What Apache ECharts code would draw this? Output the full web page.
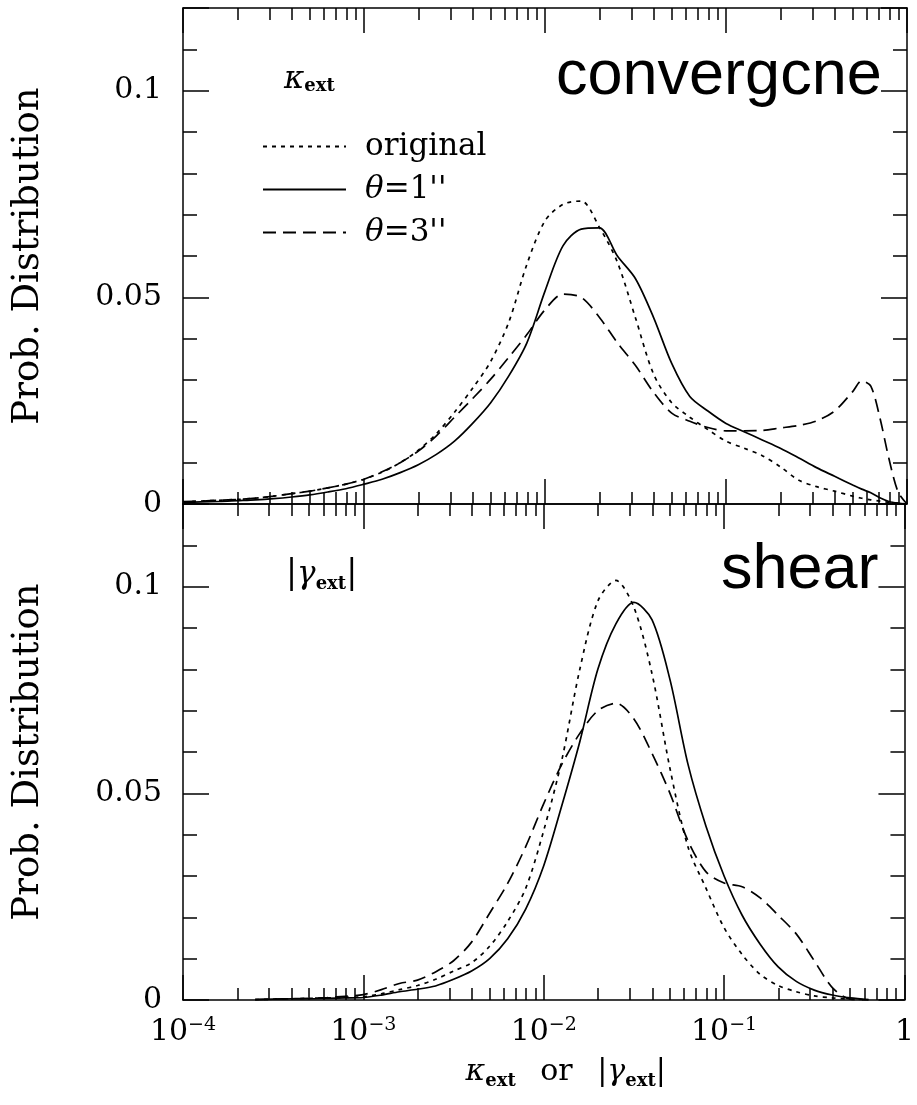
<!DOCTYPE html>
<html>
<head>
<meta charset="utf-8">
<script src="https://cdn.jsdelivr.net/npm/echarts@6/dist/echarts.min.js"></script>
<style>
html,body{margin:0;padding:0;background:#fff;}
#chart{width:917px;height:1105px;}
</style>
</head>
<body>
<div id="chart"></div>
<script>
// log10(kappa_ext) sample points, top panel
var kappaLog = [-4.0,-3.9,-3.8,-3.7,-3.6,-3.5,-3.4,-3.3,-3.2,-3.1,
  -3.0,-2.9,-2.8,-2.7,-2.6,-2.5,-2.4,-2.3,-2.2,-2.1,
  -2.0,-1.9,-1.8,-1.7,-1.6,-1.5,-1.4,-1.3,-1.2,-1.1,
  -1.0,-0.9,-0.8,-0.7,-0.6,-0.5,-0.4,-0.3,-0.25,-0.2,
  -0.15,-0.1,-0.05,0];
var kappaOriginal = [0.0005,0.0007,0.0009,0.0011,0.0014,0.0019,0.0025,0.0031,0.0039,0.0048,
  0.0060,0.0077,0.0100,0.0130,0.0170,0.0222,0.0280,0.0345,0.0440,0.0580,
  0.0685,0.0725,0.0733,0.0670,0.0585,0.0450,0.0314,0.0245,0.0210,0.0180,
  0.0152,0.0135,0.0117,0.0090,0.0058,0.0042,0.0031,0.0019,0.0014,0.0010,
  0.0007,0.0004,0.0002,0.0000];
var kappaTheta1 = [0.0003,0.0005,0.0006,0.0008,0.0010,0.0013,0.0017,0.0022,0.0029,0.0037,
  0.0048,0.0060,0.0076,0.0095,0.0120,0.0152,0.0195,0.0245,0.0310,0.0390,
  0.0515,0.0625,0.0665,0.0668,0.0600,0.0545,0.0451,0.0340,0.0260,0.0225,
  0.0195,0.0175,0.0155,0.0135,0.0112,0.0088,0.0067,0.0046,0.0036,0.0027,
  0.0015,0.0006,0.0002,0.0000];
var kappaTheta3 = [0.0006,0.0007,0.0009,0.0011,0.0014,0.0019,0.0025,0.0031,0.0039,0.0048,
  0.0060,0.0078,0.0100,0.0128,0.0165,0.0210,0.0255,0.0302,0.0355,0.0410,
  0.0470,0.0508,0.0500,0.0452,0.0390,0.0335,0.0270,0.0220,0.0200,0.0185,
  0.0177,0.0177,0.0178,0.0184,0.0190,0.0201,0.0225,0.0272,0.0298,0.0285,
  0.0209,0.0110,0.0030,0.0000];

// log10(|gamma_ext|) sample points, bottom panel
var gammaLog = [-3.6,-3.5,-3.4,-3.3,-3.2,-3.1,-3.0,-2.9,-2.8,-2.7,
  -2.6,-2.5,-2.4,-2.3,-2.2,-2.1,-2.0,-1.9,-1.8,-1.7,
  -1.6,-1.5,-1.4,-1.3,-1.2,-1.1,-1.0,-0.9,-0.8,-0.7,
  -0.6,-0.5,-0.4,-0.3,-0.2];
var gammaOriginal = [0.0001,0.0002,0.0003,0.0004,0.0005,0.0006,0.0008,0.0015,0.0025,0.0035,
  0.0050,0.0070,0.0090,0.0130,0.0190,0.0270,0.0410,0.0580,0.0800,0.0965,
  0.1015,0.0950,0.0790,0.0560,0.0370,0.0270,0.0175,0.0110,0.0062,0.0035,
  0.0020,0.0010,0.0005,0.0002,0.0001];
var gammaTheta1 = [0.0001,0.0002,0.0003,0.0003,0.0004,0.0005,0.0006,0.0012,0.0020,0.0026,
  0.0034,0.0050,0.0070,0.0100,0.0148,0.0220,0.0325,0.0470,0.0625,0.0800,
  0.0910,0.0962,0.0920,0.0775,0.0570,0.0420,0.0300,0.0205,0.0135,0.0080,
  0.0045,0.0024,0.0012,0.0005,0.0001];
var gammaTheta3 = [0.0001,0.0002,0.0003,0.0004,0.0006,0.0009,0.0013,0.0025,0.0040,0.0048,
  0.0068,0.0095,0.0140,0.0210,0.0282,0.0371,0.0475,0.0570,0.0645,0.0700,
  0.0718,0.0680,0.0597,0.0500,0.0385,0.0310,0.0283,0.0274,0.0247,0.0205,
  0.0160,0.0095,0.0030,0.0002,0.0000];

var seriesNames = ['original', "\u03b8=1''", "\u03b8=3''"];
var yLabelValues = [0, 0.05, 0.1];
var yLabelTexts = ['0', '0.05', '0.1'];
var minorMultipliers = [2, 3, 4, 5, 6, 7, 8, 9];
var decades = [-4, -3, -2, -1];

var SERIF = '"DejaVu Serif", "Liberation Serif", serif';
var SANS = '63px "Liberation Sans", Arial, sans-serif';
var INK = '#000';

var xMinorTicks = [];
decades.forEach(function (e) {
  minorMultipliers.forEach(function (m) { xMinorTicks.push(m * Math.pow(10, e)); });
});

function pairs(logs, vals) {
  var out = [];
  for (var i = 0; i < logs.length; i++) out.push([Math.pow(10, logs[i]), vals[i]]);
  return out;
}

function xLabel(v) {
  var e = Math.round(Math.log(v) / Math.LN10);
  if (e === 0) return '{b|1}';
  return '{b|10}{s|' + (e < 0 ? '\u2212' : '') + Math.abs(e) + '}';
}

function yLabel(v) {
  for (var i = 0; i < yLabelValues.length; i++) {
    if (Math.abs(v - yLabelValues[i]) < 1e-9) return yLabelTexts[i];
  }
  return '';
}

function makeXAxes(g, pos, labels) {
  var major = {
    type: 'log', logBase: 10, min: 1e-4, max: 1, gridIndex: g, position: pos,
    axisLine: { show: true, onZero: false, lineStyle: { color: INK, width: 1.5 } },
    axisTick: { show: true, inside: true, length: 25, lineStyle: { color: INK, width: 1.5 } },
    axisLabel: { show: false },
    splitLine: { show: false }
  };
  if (labels) {
    major.axisLabel = {
      show: true, margin: 16, formatter: xLabel, color: INK,
      rich: {
        b: { fontFamily: SERIF, fontSize: 30, lineHeight: 32, color: INK },
        s: { fontFamily: SERIF, fontSize: 19, lineHeight: 19, verticalAlign: 'top', color: INK }
      }
    };
    major.name = '{k|\u03ba}{e|ext}{r|\u2002 or \u2002|}{g|\u03b3}{e|ext}{r||}';
    major.nameLocation = 'middle';
    major.nameGap = 54;
    major.nameTextStyle = {
      padding: [0, 0, 0, 44],
      rich: {
        k: { fontFamily: SERIF, fontSize: 30, fontStyle: 'italic', lineHeight: 36, color: INK },
        g: { fontFamily: SERIF, fontSize: 30, fontStyle: 'italic', lineHeight: 36, color: INK },
        r: { fontFamily: SERIF, fontSize: 30, lineHeight: 36, color: INK },
        e: { fontFamily: SERIF, fontSize: 18, fontWeight: 'bold', lineHeight: 18, verticalAlign: 'bottom', color: INK }
      }
    };
  }
  var minor = {
    type: 'log', logBase: 10, min: 1e-4, max: 1, gridIndex: g, position: pos,
    axisLine: { show: false, onZero: false },
    axisTick: { show: true, inside: true, length: 12, customValues: xMinorTicks, lineStyle: { color: INK, width: 1.5 } },
    axisLabel: { show: false },
    splitLine: { show: false }
  };
  return [major, minor];
}

function makeYAxes(g, pos, labels) {
  var fine = {
    type: 'value', min: 0, max: 0.12, interval: 0.01, gridIndex: g, position: pos,
    axisLine: { show: true, onZero: false, lineStyle: { color: INK, width: 1.5 } },
    axisTick: { show: true, inside: true, length: 14, lineStyle: { color: INK, width: 1.5 } },
    axisLabel: { show: false },
    splitLine: { show: false }
  };
  var coarse = {
    type: 'value', min: 0, max: 0.12, interval: 0.05, gridIndex: g, position: pos,
    axisLine: { show: false, onZero: false },
    axisTick: { show: true, inside: true, length: 26, lineStyle: { color: INK, width: 1.5 } },
    axisLabel: { show: labels, margin: 21, formatter: yLabel, fontFamily: SERIF, fontSize: 30, color: INK },
    splitLine: { show: false }
  };
  if (labels) {
    fine.name = 'Prob. Distribution';
    fine.nameLocation = 'middle';
    fine.nameRotate = 90;
    fine.nameGap = 136;
    fine.nameTextStyle = { fontFamily: SERIF, fontSize: 37, color: INK, padding: [0, 0, 0, 0] };
  }
  return [fine, coarse];
}

var xAxes = [].concat(
  makeXAxes(0, 'bottom', false), makeXAxes(0, 'top', false),
  makeXAxes(1, 'bottom', true), makeXAxes(1, 'top', false)
);
var yAxes = [].concat(
  makeYAxes(0, 'left', true), makeYAxes(0, 'right', false),
  makeYAxes(1, 'left', true), makeYAxes(1, 'right', false)
);

var lineTypes = [[4, 5], 'solid', [13, 7]];
var panels = [
  { x: 0, y: 0, logs: kappaLog, sets: [kappaOriginal, kappaTheta1, kappaTheta3] },
  { x: 4, y: 4, logs: gammaLog, sets: [gammaOriginal, gammaTheta1, gammaTheta3] }
];
var series = [];
panels.forEach(function (p) {
  p.sets.forEach(function (vals, i) {
    series.push({
      name: seriesNames[i], type: 'line', xAxisIndex: p.x, yAxisIndex: p.y,
      data: pairs(p.logs, vals), symbol: 'none', smooth: 0.3,
      itemStyle: { color: INK },
      lineStyle: { color: INK, width: 1.7, type: lineTypes[i] }
    });
  });
});

var chart = echarts.init(document.getElementById('chart'));
chart.setOption({
  animation: false,
  backgroundColor: '#fff',
  grid: [
    { left: 183, top: 8, width: 724, height: 496 },
    { left: 183, top: 504, width: 724, height: 496 }
  ],
  xAxis: xAxes,
  yAxis: yAxes,
  legend: {
    data: seriesNames, orient: 'vertical', left: 257, top: 126,
    itemWidth: 83, itemHeight: 12, itemGap: 12, selectedMode: false,
    itemStyle: { opacity: 0 },
    formatter: function (n) { return n.charAt(0) === '\u03b8' ? '{it|\u03b8}' + n.slice(1) : n; },
    textStyle: {
      fontFamily: SERIF, fontSize: 31, color: INK, padding: [0, 0, 0, 14],
      rich: { it: { fontFamily: SERIF, fontSize: 31, fontStyle: 'italic', color: INK } }
    }
  },
  graphic: [
    { type: 'text', left: 284, top: 64, style: {
      text: '{k|\u03ba}{e|ext}',
      rich: {
        k: { fontFamily: SERIF, fontSize: 31, fontStyle: 'italic', lineHeight: 32, fill: INK },
        e: { fontFamily: SERIF, fontSize: 18, fontWeight: 'bold', lineHeight: 18, verticalAlign: 'bottom', fill: INK }
      } } },
    { type: 'text', left: 286, top: 558, style: {
      text: '{r||}{g|\u03b3}{e|ext}{r||}',
      rich: {
        r: { fontFamily: SERIF, fontSize: 33, lineHeight: 38, fill: INK },
        g: { fontFamily: SERIF, fontSize: 31, fontStyle: 'italic', lineHeight: 38, fill: INK },
        e: { fontFamily: SERIF, fontSize: 18, fontWeight: 'bold', lineHeight: 18, verticalAlign: 'bottom', fill: INK }
      } } },
    { type: 'text', left: 556, top: 45, style: { text: 'convergcne', font: SANS, fill: INK } },
    { type: 'text', left: 721, top: 539, style: { text: 'shear', font: SANS, fill: INK } }
  ],
  series: series
});
</script>
</body>
</html>
